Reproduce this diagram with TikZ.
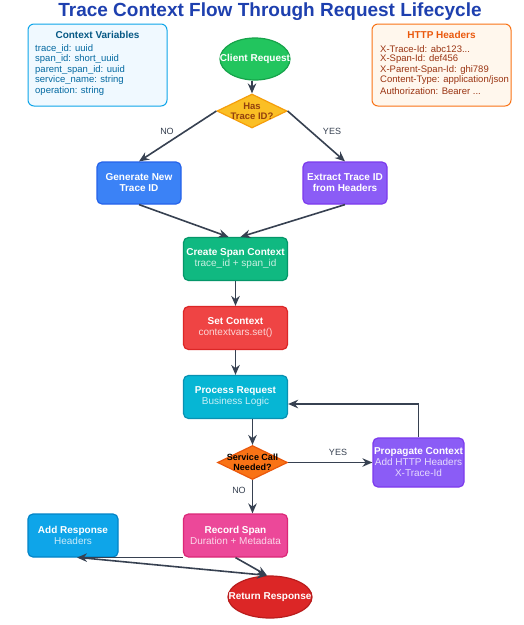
\documentclass[tikz,border=0pt]{standalone}
\usepackage{fontspec}
\setmainfont{Liberation Sans}
\usetikzlibrary{shapes.geometric,arrows.meta}
\definecolor{titlec}{HTML}{1E40AF}
\definecolor{arrowc}{HTML}{374151}
\definecolor{cgreen}{HTML}{22C55E}\definecolor{cgreenb}{HTML}{16A34A}
\definecolor{camber}{HTML}{FBBF24}\definecolor{camberb}{HTML}{F59E0B}\definecolor{ambertext}{HTML}{92400E}
\definecolor{cblue}{HTML}{3B82F6}\definecolor{cblueb}{HTML}{2563EB}
\definecolor{cpurple}{HTML}{8B5CF6}\definecolor{cpurpleb}{HTML}{7C3AED}
\definecolor{cemer}{HTML}{10B981}\definecolor{cemerb}{HTML}{059669}
\definecolor{cred}{HTML}{EF4444}\definecolor{credb}{HTML}{DC2626}
\definecolor{ccyan}{HTML}{06B6D4}\definecolor{ccyanb}{HTML}{0891B2}
\definecolor{corange}{HTML}{F97316}\definecolor{corangeb}{HTML}{EA580C}
\definecolor{cpink}{HTML}{EC4899}\definecolor{cpinkb}{HTML}{DB2777}
\definecolor{csky}{HTML}{0EA5E9}\definecolor{cskyb}{HTML}{0284C7}
\definecolor{cdred}{HTML}{DC2626}\definecolor{cdredb}{HTML}{B91C1C}
\definecolor{ctxfill}{HTML}{F0F9FF}\definecolor{ctxtitle}{HTML}{075985}\definecolor{ctxtext}{HTML}{0369A1}
\definecolor{httpfill}{HTML}{FFF7ED}\definecolor{httptitle}{HTML}{EA580C}\definecolor{httptext}{HTML}{9A3412}
\newcommand\subl[2]{{\color{white!78!#1}\mdseries #2}}
\begin{document}
\begin{tikzpicture}[x=1pt,y=-1pt,
  proc/.style args={#1/#2}{rectangle,rounded corners=5pt,line width=1.2pt,fill=#1,draw=#2,
    minimum width=104pt,minimum height=43pt,inner sep=0pt,align=center,text=white,
    font=\fontsize{10}{11}\selectfont\bfseries},
  oval/.style args={#1/#2}{ellipse,line width=1.2pt,fill=#1,draw=#2,inner sep=0pt},
  dia/.style args={#1/#2}{diamond,line width=1.2pt,fill=#1,draw=#2,inner sep=0pt,
    minimum width=70pt,minimum height=34pt},
  infobox/.style args={#1/#2}{rectangle,rounded corners=6pt,line width=1pt,fill=#1,draw=#2,
    minimum width=139pt,minimum height=82pt},
  ctxline/.style={anchor=west,inner sep=0pt,text=ctxtext,font=\fontsize{9.5}{10}\selectfont},
  httpline/.style={anchor=west,inner sep=0pt,text=httptext,font=\fontsize{9.5}{10}\selectfont},
  elabel/.style={text=arrowc,font=\fontsize{9}{10}\selectfont,inner sep=0pt},
  arr/.style={draw=arrowc,line width=1.6pt,-{Stealth[length=10pt,width=8.5pt]}}]
\useasboundingbox (0,0) rectangle (524,625);
\fill[white] (0,0) rectangle (524,625);

\node[text=titlec,font=\fontsize{19}{22}\selectfont\bfseries] (title) at (270,12) {Trace Context Flow Through Request Lifecycle};

% info boxes
\node[infobox=ctxfill/csky] (ctxbox) at (97.5,65) {};
\node[text=ctxtitle,font=\fontsize{10}{11}\selectfont\bfseries,inner sep=0pt] (ctxt) at (97.5,35) {Context Variables};
\node[ctxline] (c1) at (35,49) {trace\_id: uuid};
\node[ctxline] (c2) at (35,59.5) {span\_id: short\_uuid};
\node[ctxline] (c3) at (35,70) {parent\_span\_id: uuid};
\node[ctxline] (c4) at (35,80.5) {service\_name: string};
\node[ctxline] (c5) at (35,91) {operation: string};

\node[infobox=httpfill/corange] (httpbox) at (441.5,65) {};
\node[text=httptitle,font=\fontsize{10}{11}\selectfont\bfseries,inner sep=0pt] (httpt) at (441.5,35) {HTTP Headers};
\node[httpline] (h1) at (380,49) {X-Trace-Id: abc123...};
\node[httpline] (h2) at (380,59.5) {X-Span-Id: def456};
\node[httpline] (h3) at (380,70) {X-Parent-Span-Id: ghi789};
\node[httpline] (h4) at (380,80.5) {Content-Type: application/json};
\node[httpline] (h5) at (380,91) {Authorization: Bearer ...};

% flow nodes
\node[oval=cgreen/cgreenb,minimum width=70pt,minimum height=42pt,
  label={[text=white,font=\fontsize{10}{11}\selectfont\bfseries]center:Client Request}] (client) at (255,59) {};
\node[dia=camber/camberb,
  label={[text=ambertext,align=center,font=\fontsize{9.5}{10}\selectfont\bfseries]center:Has\\Trace ID?}] (has) at (252,111) {};
\node[proc=cblue/cblueb,minimum width=84pt,minimum height=42pt] (gen) at (139,183) {Generate New\\Trace ID};
\node[proc=cpurple/cpurpleb,minimum width=84pt,minimum height=42pt] (ext) at (345,183) {Extract Trace ID\\from Headers};
\node[proc=cemer/cemerb] (create) at (235.5,259) {Create Span Context\\\subl{cemer}{trace\_id + span\_id}};
\node[proc=cred/credb] (set) at (235.5,328) {Set Context\\\subl{cred}{contextvars.set()}};
\node[proc=ccyan/ccyanb] (proc) at (235.5,397) {Process Request\\\subl{ccyan}{Business Logic}};
\node[dia=corange/corangeb,
  label={[text=black,align=center,font=\fontsize{9}{10}\selectfont\bfseries]center:Service Call\\Needed?}] (svc) at (252.5,462.5) {};
\node[proc=cpurple/cpurpleb,minimum width=91pt,minimum height=49pt] (prop) at (418.5,462.5) {Propagate Context\\\subl{cpurple}{Add HTTP Headers}\\\subl{cpurple}{X-Trace-Id}};
\node[proc=cpink/cpinkb] (rec) at (235.5,535.5) {Record Span\\\subl{cpink}{Duration + Metadata}};
\node[proc=csky/cskyb,minimum width=90pt,minimum height=43pt] (addr) at (73,535.5) {Add Response\\\subl{csky}{Headers}};
\node[oval=cdred/cdredb,minimum width=84pt,minimum height=42pt,
  label={[text=white,font=\fontsize{10}{11}\selectfont\bfseries]center:Return Response}] (ret) at (270,597) {};

% edges
\draw[arr] (client.south -| has.north) -- (has.north);
\draw[arr] (has.west) -- (gen.north);
\draw[arr] (has.east) -- (ext.north);
\node[elabel] (lno) at (167,131) {NO};
\node[elabel] (lyes) at (332,131) {YES};
\draw[arr] (gen.south) -- ([xshift=-7pt]create.north);
\draw[arr] (ext.south) -- ([xshift=5pt]create.north);
\draw[arr] (create.south) -- (set.north);
\draw[arr] (set.south) -- (proc.north);
\draw[arr] (svc.north |- proc.south) -- (svc.north);
\draw[arr] (svc.east) -- (prop.west);
\node[elabel] (lyes2) at (338,452) {YES};
\draw[arr] (prop.north) |- ([yshift=-7pt]proc.east);
\draw[arr] (svc.south) -- (svc.south |- rec.north);
\node[elabel] (lno2) at (239,490) {NO};
\draw[arr] (rec.south west) -- ([xshift=4pt]addr.south);
\draw[arr] ([xshift=7pt]addr.south) -- ([xshift=-3pt]ret.north);
\draw[arr] (rec.south) -- ([xshift=-3pt]ret.north);
\end{tikzpicture}
\end{document}
